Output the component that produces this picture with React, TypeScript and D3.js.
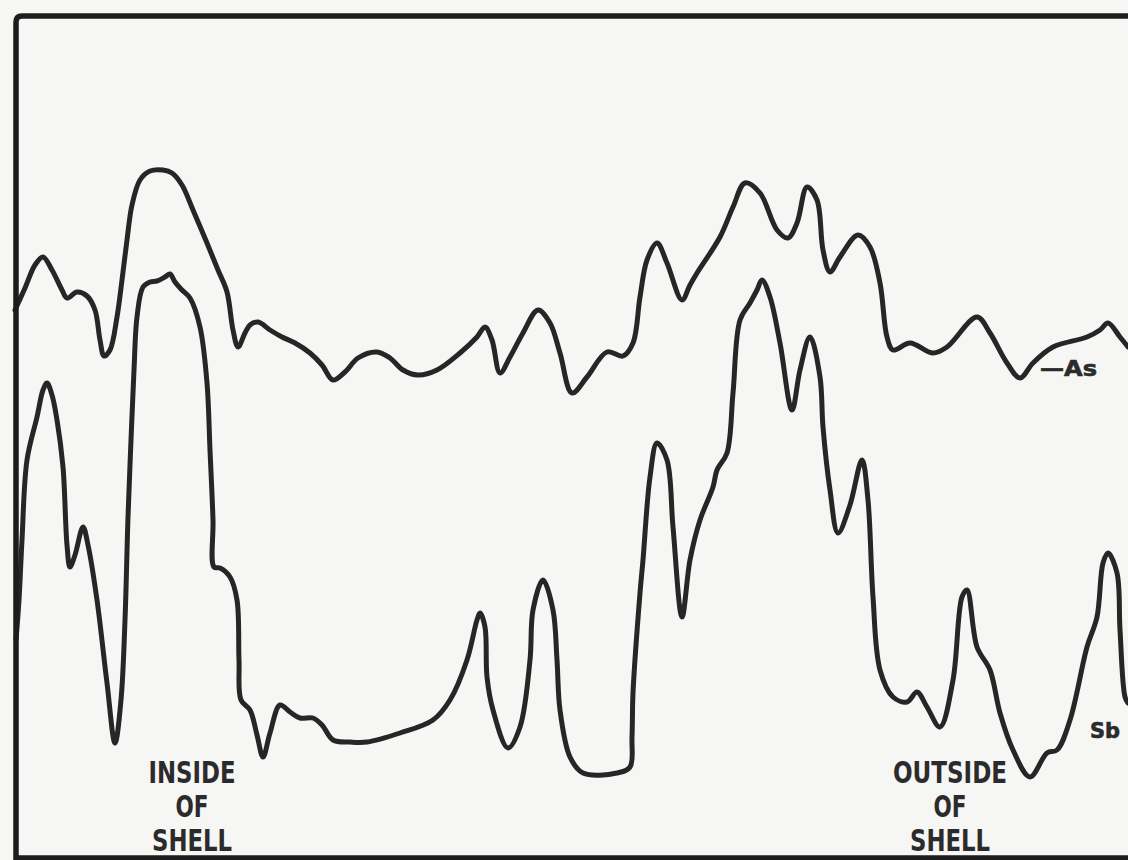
import { useRef, useEffect } from 'react'
import * as d3 from 'd3'

// scan position (arbitrary distance units) and X-ray intensity readings
const asPos = [0, 10, 20, 28, 37, 47, 52, 62, 72, 80, 85, 89, 95, 102, 107, 112, 117, 125, 135, 148, 157, 167, 178, 192, 203, 212, 218, 223, 230, 235, 243, 255, 267, 280, 295, 307, 318, 330, 343, 362, 375, 388, 403, 422, 445, 462, 470, 477, 485, 495, 508, 523, 535, 545, 557, 572, 592, 608, 618, 625, 632, 642, 652, 667, 675, 682, 705, 718, 730, 745, 762, 773, 782, 792, 802, 808, 815, 825, 843, 855, 865, 872, 878, 895, 918, 932, 962, 975, 992, 1005, 1018, 1038, 1072, 1085, 1093, 1105, 1113]
const asVal = [548, 570, 593, 601, 588, 568, 560, 566, 562, 548, 518, 502, 508, 541, 578, 618, 653, 678, 687, 688, 685, 673, 648, 615, 588, 566, 528, 511, 525, 533, 536, 528, 521, 515, 505, 493, 478, 486, 500, 506, 500, 488, 483, 488, 505, 521, 531, 518, 485, 501, 525, 548, 535, 505, 465, 481, 506, 502, 515, 561, 598, 615, 595, 558, 573, 585, 621, 651, 675, 665, 628, 620, 635, 671, 658, 608, 586, 601, 623, 611, 575, 521, 508, 515, 505, 511, 541, 525, 495, 480, 495, 511, 521, 528, 535, 521, 511]

const sbPos = [1, 4, 7, 12, 22, 28, 32, 37, 42, 48, 52, 55, 60, 68, 73, 82, 92, 100, 106, 110, 113, 116, 119, 122, 128, 135, 142, 150, 155, 160, 167, 175, 185, 192, 195, 198, 199, 205, 215, 222, 224, 226, 235, 242, 248, 255, 265, 275, 285, 298, 307, 318, 335, 352, 385, 418, 435, 452, 462, 465, 470, 472, 478, 493, 505, 515, 518, 528, 538, 542, 545, 555, 568, 602, 615, 617, 618, 625, 628, 635, 642, 652, 658, 667, 675, 685, 698, 702, 712, 718, 725, 735, 742, 747, 755, 765, 777, 785, 795, 805, 808, 815, 823, 835, 847, 853, 858, 865, 878, 892, 902, 912, 925, 938, 947, 952, 962, 975, 985, 998, 1015, 1032, 1042, 1055, 1072, 1082, 1088, 1093, 1102, 1105, 1110, 1113]
const sbVal = [218, 258, 318, 398, 441, 468, 475, 463, 438, 391, 313, 291, 303, 331, 313, 258, 175, 115, 158, 238, 341, 418, 488, 541, 571, 576, 577, 581, 584, 576, 568, 560, 531, 475, 408, 338, 291, 290, 281, 258, 198, 158, 148, 123, 101, 125, 153, 146, 140, 140, 133, 118, 116, 116, 125, 138, 158, 198, 238, 245, 231, 181, 148, 110, 131, 198, 248, 278, 248, 198, 148, 101, 85, 85, 91, 121, 165, 265, 298, 381, 415, 398, 331, 241, 298, 338, 371, 388, 405, 465, 538, 555, 568, 578, 561, 515, 448, 488, 521, 481, 431, 368, 325, 353, 398, 358, 261, 188, 161, 156, 166, 151, 131, 178, 261, 268, 211, 188, 145, 108, 81, 105, 108, 138, 211, 241, 295, 305, 285, 228, 161, 155]

const regionLabels = [
  { pos: 177, lines: ['INSIDE', 'OF', 'SHELL'], widths: [87, 33, 80] },
  { pos: 935, lines: ['OUTSIDE', 'OF', 'SHELL'], widths: [114, 33, 80] },
]

const ink = '#262626'

const Chart = () => {
  const svgRef = useRef(null)

  useEffect(() => {
    const W = 1128
    const H = 860
    const margin = { top: 16, right: 0, bottom: 2, left: 16 }

    const svg = d3.select(svgRef.current)
    svg.selectAll('*').remove()
    svg.attr('width', W).attr('height', H)

    svg.append('rect').attr('width', W).attr('height', H).attr('fill', '#f6f6f5')

    const x = d3.scaleLinear().domain([0, 1113]).range([margin.left - 1, W - margin.right])
    const y = d3.scaleLinear().domain([0, 843]).range([H - margin.bottom, margin.top - 1])

    const line = d3.line<[number, number]>()
      .x(d => x(d[0]))
      .y(d => y(d[1]))
      .curve(d3.curveCatmullRom.alpha(0.5))

    const asData = asPos.map((p, i) => [p, asVal[i]] as [number, number])
    const sbData = sbPos.map((p, i) => [p, sbVal[i]] as [number, number])

    const g = svg.append('g')

    ;[asData, sbData].forEach(data => {
      g.append('path')
        .attr('d', line(data))
        .attr('fill', 'none')
        .attr('stroke', ink)
        .attr('stroke-width', 5)
        .attr('stroke-linejoin', 'round')
        .attr('stroke-linecap', 'round')
    })

    // frame: top, left and bottom edges
    const x0 = margin.left
    const y0 = margin.top
    const yb = H - margin.bottom
    svg.append('path')
      .attr('d', `M${W},${y0} L${x0 + 6},${y0} Q${x0},${y0} ${x0},${y0 + 6} L${x0},${yb} L${W},${yb}`)
      .attr('fill', 'none')
      .attr('stroke', '#1d1d1d')
      .attr('stroke-width', 5.5)

    const font = '"Liberation Sans Narrow", "DejaVu Sans Condensed", "Liberation Sans", Arial, sans-serif'

    // region labels under the curves
    regionLabels.forEach(lab => {
      lab.lines.forEach((t, i) => {
        svg.append('text')
          .attr('x', x(lab.pos))
          .attr('y', 783 + i * 34)
          .attr('text-anchor', 'middle')
          .attr('font-family', font)
          .attr('font-weight', 'bold')
          .attr('font-size', 31)
          .attr('textLength', lab.widths[i])
          .attr('lengthAdjust', 'spacingAndGlyphs')
          .attr('fill', '#2b2b2b')
          .text(t)
      })
    })

    // series tags
    svg.append('text')
      .attr('x', x(1025))
      .attr('y', 376)
      .attr('font-family', font)
      .attr('font-weight', 'bold')
      .attr('font-size', 22)
      .attr('textLength', 57)
      .attr('lengthAdjust', 'spacingAndGlyphs')
      .attr('fill', '#2b2b2b')
      .attr('stroke', '#2b2b2b')
      .attr('stroke-width', 0.6)
      .text('—As')

    svg.append('text')
      .attr('x', x(1075))
      .attr('y', 738)
      .attr('font-family', font)
      .attr('font-weight', 'bold')
      .attr('font-size', 21)
      .attr('textLength', 30)
      .attr('lengthAdjust', 'spacingAndGlyphs')
      .attr('fill', '#2b2b2b')
      .attr('stroke', '#2b2b2b')
      .attr('stroke-width', 0.6)
      .text('Sb')
  }, [])

  return <svg ref={svgRef} style={{ position: 'absolute', left: 0, top: 0, display: 'block' }}></svg>
}

export default function App() {
  return <Chart />
}
